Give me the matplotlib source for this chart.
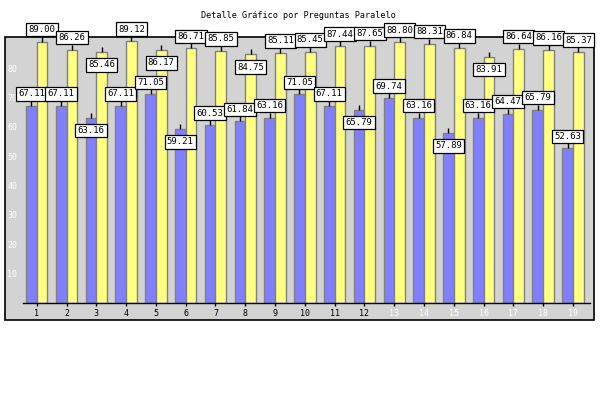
import matplotlib
matplotlib.use("Agg")
import matplotlib.pyplot as plt
from matplotlib.patches import Rectangle
import numpy as np

title = "Detalle Gráfico por Preguntas Paralelo"
categories = [str(i) for i in range(1, 20)]
serie_a = [67.11, 67.11, 63.16, 67.11, 71.05, 59.21, 60.53, 61.84, 63.16, 71.05,
           67.11, 65.79, 69.74, 63.16, 57.89, 63.16, 64.47, 65.79, 52.63]
serie_b = [89.00, 86.26, 85.46, 89.12, 86.17, 86.71, 85.85, 84.75, 85.11, 85.45,
           87.44, 87.65, 88.80, 88.31, 86.84, 83.91, 86.64, 86.16, 85.37]
# label placement: True = above bar top, False = below
above_a = [True, True, False, True, True, False, True, True, True, True,
           True, False, True, True, False, True, True, True, True]
above_b = [True, True, False, True, False, True, True, False, True, True,
           True, True, True, True, True, False, True, True, True]
yticks = [10, 20, 30, 40, 50, 60, 70, 80]

W, H = 600, 400
fig = plt.figure(figsize=(6, 4), dpi=100)
fig.patch.set_facecolor("white")

ax = fig.add_axes([23 / W, 1 - 303 / H, (590 - 23) / W, (303 - 37) / H])
ax.set_facecolor("none")
ax.patch.set_alpha(0)

# outer gray panel
ax.add_patch(Rectangle((5 / W, 1 - 320 / H), (594 - 5) / W, (320 - 37) / H,
                       transform=fig.transFigure, facecolor="#d3d3d3",
                       edgecolor="black", linewidth=1.2, zorder=-10,
                       clip_on=False))

x = np.arange(1, len(categories) + 1)
bw = 0.36
ax.bar(x, serie_a, width=-bw, align="edge", color="#7f7fff", edgecolor="#808080",
       linewidth=1.0, zorder=2)
ax.bar(x, serie_b, width=bw, align="edge", color="#ffff80", edgecolor="#808080",
       linewidth=1.0, zorder=2)

ax.set_xlim(0.54, 19.57)
ax.set_ylim(0, 90.6)

for s in ["top", "right", "left"]:
    ax.spines[s].set_visible(False)
ax.spines["bottom"].set_color("black")
ax.spines["bottom"].set_linewidth(1.0)

ax.set_yticks(yticks)
ax.set_yticklabels([str(v) for v in yticks], family="DejaVu Sans Mono",
                   fontsize=6, color="white")
ax.tick_params(axis="y", length=0, pad=4)
ax.set_xticks(x)
ax.set_xticklabels(categories, family="DejaVu Sans Mono", fontsize=6)
ax.tick_params(axis="x", direction="inout", length=5, width=1, pad=1.5)
for i, lab in enumerate(ax.get_xticklabels()):
    lab.set_color("black" if i < 12 else "white")

def labels(xs, vals, ups):
    for xi, v, up in zip(xs, vals, ups):
        ax.plot([xi], [v], marker=2, markersize=3.5, color="black", zorder=3,
                clip_on=False)
        if up:
            ax.annotate(f"{v:.2f}", xy=(xi, v), xytext=(0, 5.5),
                        textcoords="offset points", ha="center", va="bottom",
                        family="DejaVu Sans Mono", fontsize=6.5, zorder=5,
                        annotation_clip=False,
                        bbox=dict(boxstyle="square,pad=0.25", fc="white",
                                  ec="black", lw=0.9))
        else:
            ax.annotate(f"{v:.2f}", xy=(xi, v), xytext=(0, -6),
                        textcoords="offset points", ha="center", va="top",
                        family="DejaVu Sans Mono", fontsize=6.5, zorder=5,
                        annotation_clip=False,
                        bbox=dict(boxstyle="square,pad=0.25", fc="white",
                                  ec="black", lw=0.9))

labels(x - bw / 2, serie_a, above_a)
labels(x + bw / 2, serie_b, above_b)

fig.text(298 / W, 1 - 15 / H, title, ha="center", va="center",
         family="DejaVu Sans Mono", fontsize=6.1)

fig.savefig("out.png", dpi=100)
